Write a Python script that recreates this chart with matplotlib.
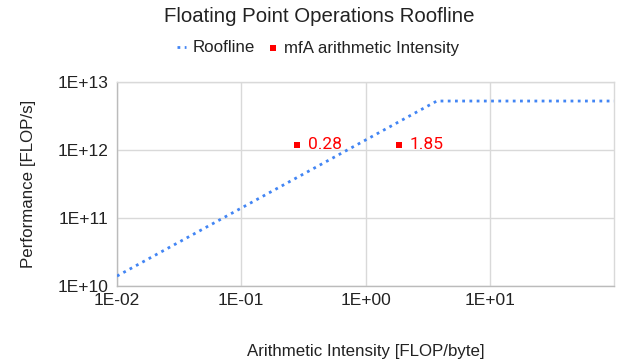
import matplotlib
matplotlib.use("Agg")
import matplotlib.pyplot as plt
import numpy as np

# Data
roof_x = [0.01, 3.75, 100.0]
roof_y = [1.4e10, 5.25e12, 5.25e12]
ai_x = [0.28, 1.85]
ai_y = [1.2e12, 1.2e12]
ai_labels = ["0.28", "1.85"]
x_ticks = [0.01, 0.1, 1, 10]
x_ticklabels = ["1E-02", "1E-01", "1E+00", "1E+01"]
y_ticks = [1e10, 1e11, 1e12, 1e13]
y_ticklabels = ["1E+10", "1E+11", "1E+12", "1E+13"]

W, H = 618, 364
fig = plt.figure(figsize=(W / 100, H / 100), dpi=100)
ax = fig.add_axes([117 / W, 1 - 286 / H, (614 - 117) / W, (286 - 82) / H])

blue = "#4285F4"
red = "#FF0000"
grid_c = "#D9D9D9"
text_c = "#222222"
font = "Liberation Sans"

ax.plot(roof_x, roof_y, color=blue, linestyle=(0, (1, 1.6)), linewidth=2.0,
        label="Roofline", zorder=3)
ax.scatter(ai_x, ai_y, marker="s", s=22, color=red, label="mfA arithmetic Intensity",
           zorder=4, linewidths=0)
for x, y, t in zip(ai_x, ai_y, ai_labels):
    ax.annotate(t, (x, y), xytext=(8, 0), textcoords="offset points",
                color=red, fontsize=12.5, va="center", ha="left", family="Roboto")

ax.set_xscale("log")
ax.set_yscale("log")
ax.set_xlim(0.01, 100)
ax.set_ylim(1e10, 1e13)
ax.set_xticks(x_ticks)
ax.set_xticklabels(x_ticklabels)
ax.set_yticks(y_ticks)
ax.set_yticklabels(y_ticklabels)
ax.minorticks_off()
ax.tick_params(length=0, labelsize=12.5, labelcolor=text_c, pad=6)
ax.tick_params(axis="x", pad=5)
for lab in ax.get_xticklabels() + ax.get_yticklabels():
    lab.set_family(font)
ax.grid(True, color=grid_c, linewidth=1)
ax.set_axisbelow(True)
for s in ax.spines.values():
    s.set_color(grid_c)
    s.set_linewidth(1)
ax.spines["left"].set_color("#BBBBBB")
ax.spines["bottom"].set_color("#BBBBBB")

ax.set_xlabel("Arithmetic Intensity [FLOP/byte]", fontsize=12.2, family=font,
              color=text_c, labelpad=26)
ax.set_ylabel("Performance [FLOP/s]", fontsize=12.2, family=font, color=text_c,
              labelpad=16)

fig.text(319 / W, 1 - 17 / H, "Floating Point Operations Roofline", ha="center",
         va="center", fontsize=14.7, family=font, color=text_c)

leg = fig.legend(loc="center", bbox_to_anchor=(318 / W, 1 - 48 / H), ncol=2,
                 frameon=False, handlelength=0.5, handletextpad=0.4,
                 columnspacing=0.8, markerscale=0.8, prop={"family": font, "size": 12.2})
for t in leg.get_texts():
    t.set_color(text_c)

fig.savefig("out.png", dpi=100)
